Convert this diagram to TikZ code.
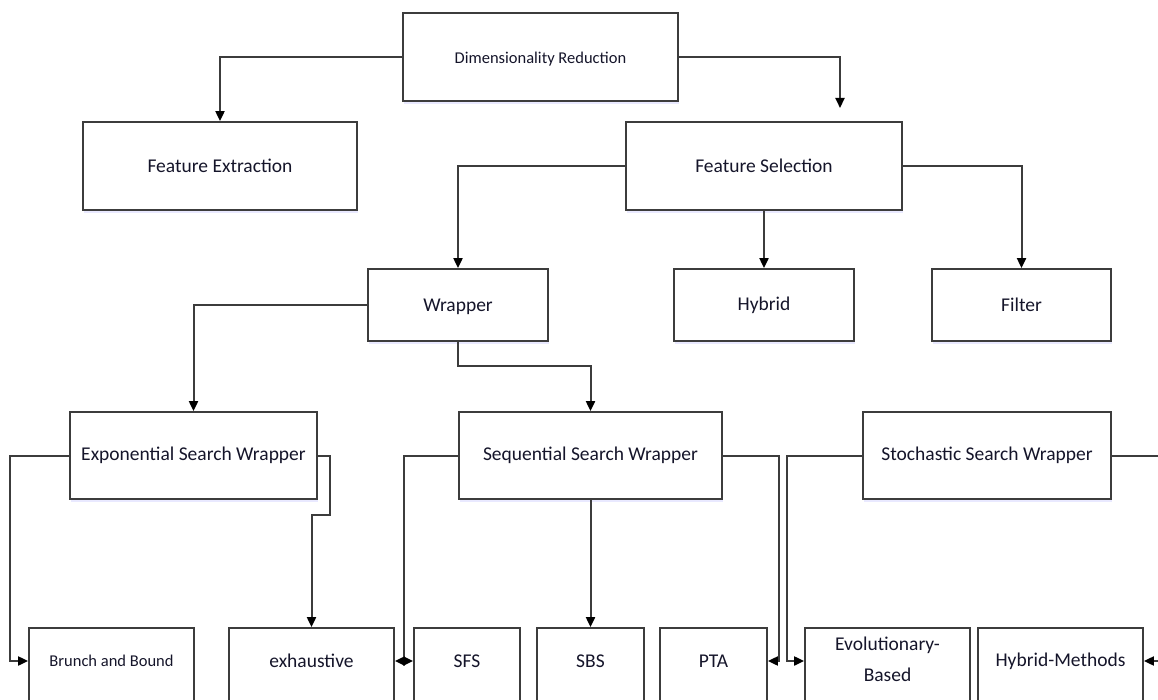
\documentclass[tikz,border=0pt]{standalone}
\usepackage{fontspec}
\setmainfont{Carlito}
\usetikzlibrary{arrows.meta,shadows}
\definecolor{edge}{HTML}{3C3C3C}
\definecolor{ink}{HTML}{15152A}
% shift a label vertically without changing the size of its box
\newcommand{\liftup}[1]{\raisebox{11pt}[\height][\depth]{#1}}
\newcommand{\dropdown}[1]{\raisebox{-2pt}[\height][\depth]{#1}}
\begin{document}
\begin{tikzpicture}[x=1pt,y=-1pt,
  box/.style={draw=edge, line width=1.8pt, fill=white, rectangle, inner sep=0pt,
    text=ink, font=\fontsize{19.5}{23}\selectfont,
    drop shadow={shadow xshift=1pt, shadow yshift=-3pt, fill=blue!25, opacity=0.35}},
  small/.style={font=\fontsize{16.5}{20}\selectfont},
  upper/.style={minimum height=88pt},
  mid/.style={minimum height=72pt},
  low/.style={minimum height=88pt},
  conn/.style={draw=edge, line width=2pt, -{Triangle[length=10pt,width=9pt,color=black]}}]
\useasboundingbox (0,0) rectangle (1158,700);
\clip (0,0) rectangle (1158,700);

% top level
\node[box, upper, small, minimum width=275pt] (dr) at (540.5,57) {\dropdown{Dimensionality Reduction}};
\node[box, upper, minimum width=274pt] (fe) at (220,166) {Feature Extraction};
\node[box, upper, minimum width=276pt] (fs) at (764,166) {Feature Selection};

% selection families
\node[box, mid, minimum width=180pt] (wr) at (458,305) {\dropdown{Wrapper}};
\node[box, mid, minimum width=180pt] (hy) at (764,305) {Hybrid};
\node[box, mid, minimum width=179pt] (fi) at (1021.5,305) {Filter};

% wrapper kinds
\node[box, upper, minimum width=247pt, minimum height=87pt] (esw) at (193.5,455.5) {Exponential Search Wrapper};
\node[box, upper, minimum width=263pt, minimum height=87pt] (ssw) at (590.5,455.5) {Sequential Search Wrapper};
\node[box, upper, minimum width=248pt, minimum height=87pt] (sto) at (987,455.5) {Stochastic Search Wrapper};

% search methods
\node[box, low, small, minimum width=165pt] (bb) at (111.5,672) {\liftup{Brunch and Bound}};
\node[box, low, minimum width=165pt] (ex) at (311.5,672) {\liftup{exhaustive}};
\node[box, low, minimum width=106pt] (sfs) at (467,672) {\liftup{SFS}};
\node[box, low, minimum width=107pt] (sbs) at (590.5,672) {\liftup{SBS}};
\node[box, low, minimum width=107pt] (pta) at (713.5,672) {\liftup{PTA}};
\node[box, low, minimum width=165pt] (evo) at (887.5,672)
  {\liftup{\begin{tabular}{@{}c@{}}Evolutionary-\\[8pt]Based\end{tabular}}};
\node[box, low, minimum width=165pt] (hm) at (1060.5,672) {\liftup{Hybrid-Methods}};

\coordinate (fsin) at (840,108);

% connectors
\draw[conn] (dr.west) -| (fe.north);
\draw[conn] (dr.east) -| (fsin);
\draw[conn] (fs.west) -| (wr.north);
\draw[conn] (fs.south) -- (hy.north);
\draw[conn] (fs.east) -| (fi.north);
\draw[conn] (wr.west) -| (esw.north);
\draw[conn] (wr.south) -- ++(0,24) -| (ssw.north);
\draw[conn] (esw.west) -- ++(-59,0) |- ([yshift=11pt]bb.west);
\draw[conn] (esw.east) -- ++(12,0) -- ++(0,59) -| (ex.north);
\draw[conn] (ssw.west) -- ++(-54,0) |- ([yshift=11pt]sfs.west);
\draw[conn] (ssw.west) -- ++(-54,0) |- ([yshift=11pt]ex.east);
\draw[conn] (ssw.south) -- (sbs.north);
\draw[conn] (ssw.east) -- ++(56,0) |- ([yshift=11pt]pta.east);
\draw[conn] (sto.west) -- ++(-75,0) |- ([yshift=11pt]evo.west);
\draw[conn] (sto.east) -- ++(70,0) |- ([yshift=11pt]hm.east);
\end{tikzpicture}
\end{document}
